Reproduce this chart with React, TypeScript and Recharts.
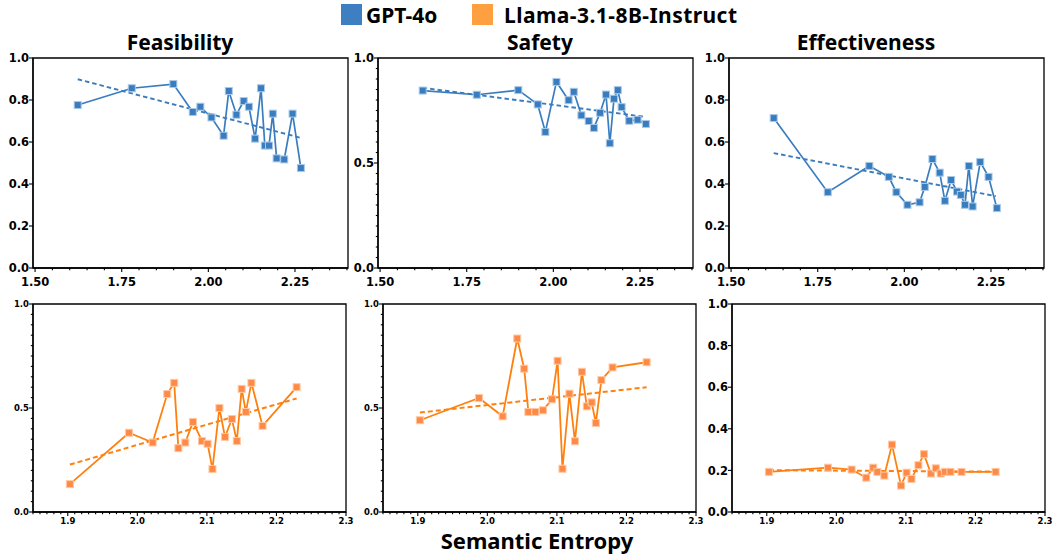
import React from "react";
import { LineChart, Line, XAxis, YAxis, ReferenceArea } from "recharts";

// GPT-4o: semantic entropy of each sample and the three scores
const gptEntropy = [1.623, 1.779, 1.899, 1.955, 1.977, 2.009, 2.044, 2.059, 2.081, 2.102, 2.117, 2.135, 2.152, 2.163, 2.175, 2.186, 2.197, 2.219, 2.243, 2.267];
const gptFeasibility = [0.776, 0.856, 0.876, 0.743, 0.768, 0.717, 0.63, 0.843, 0.73, 0.795, 0.768, 0.616, 0.856, 0.583, 0.583, 0.735, 0.522, 0.517, 0.735, 0.476];
const gptSafety = [0.845, 0.825, 0.847, 0.779, 0.648, 0.886, 0.799, 0.839, 0.727, 0.7, 0.667, 0.739, 0.826, 0.594, 0.806, 0.847, 0.766, 0.701, 0.706, 0.686];
const gptEffectiveness = [0.714, 0.361, 0.486, 0.434, 0.361, 0.301, 0.313, 0.386, 0.519, 0.454, 0.32, 0.419, 0.364, 0.348, 0.301, 0.486, 0.293, 0.505, 0.434, 0.285];

// Llama-3.1-8B-Instruct
const llamaEntropy = [1.903, 1.988, 2.022, 2.043, 2.053, 2.059, 2.069, 2.08, 2.093, 2.101, 2.108, 2.118, 2.126, 2.136, 2.143, 2.15, 2.156, 2.164, 2.18, 2.229];
const llamaFeasibility = [0.134, 0.381, 0.334, 0.567, 0.621, 0.307, 0.334, 0.433, 0.341, 0.328, 0.207, 0.5, 0.361, 0.447, 0.341, 0.592, 0.481, 0.621, 0.414, 0.6];
const llamaSafety = [0.441, 0.548, 0.46, 0.834, 0.689, 0.481, 0.481, 0.489, 0.542, 0.727, 0.208, 0.569, 0.34, 0.674, 0.508, 0.527, 0.428, 0.634, 0.695, 0.72];
const llamaEffectiveness = [0.193, 0.213, 0.204, 0.165, 0.213, 0.193, 0.175, 0.324, 0.127, 0.189, 0.159, 0.225, 0.278, 0.185, 0.21, 0.185, 0.193, 0.193, 0.193, 0.193];

// dashed trend lines (end points)
const gptTrendX = [1.623, 2.264];
const gptFeasibilityTrend = [0.899, 0.621];
const gptSafetyTrend = [0.858, 0.72];
const gptEffectivenessTrend = [0.547, 0.342];
const llamaTrendX = [1.903, 2.229];
const llamaFeasibilityTrend = [0.228, 0.546];
const llamaSafetyTrend = [0.478, 0.6];
const llamaEffectivenessTrend = [0.201, 0.194];

const titles = ["Feasibility", "Safety", "Effectiveness"];
const topXTicks = [1.5, 1.75, 2.0, 2.25];
const bottomXTicks = [1.9, 2.0, 2.1, 2.2, 2.3];
const yTicksFine = [0, 0.2, 0.4, 0.6, 0.8, 1.0];
const yTicksCoarse = [0, 0.5, 1.0];

const BLUE = "#3a7dbf";
const BLUE_EDGE = "#a9c9e8";
const ORANGE = "#ff800e";
const ORANGE_MARK = "#ff8a48";
const ORANGE_EDGE = "#ffc9a3";

const pts = (xs: number[], ys: number[]) => xs.map((x, i) => ({ x, y: ys[i] }));

const withMinor = (major: number[], lo: number, hi: number, step: number) => {
  const out: number[] = [];
  if (step > 0) {
    for (let v = lo; v <= hi + 1e-9; v += step) out.push(Math.round(v * 1000) / 1000);
  }
  major.forEach((m) => {
    if (!out.some((o) => Math.abs(o - m) < 1e-6)) out.push(m);
  });
  return out.sort((a, b) => a - b);
};

const isMajor = (major: number[], v: number) => major.some((m) => Math.abs(m - v) < 1e-6);

type PanelProps = {
  left: number;
  top: number;
  w: number;
  h: number;
  xDomain: [number, number];
  xMajor: number[];
  xMinorStep: number;
  xDigits: number;
  xFont: number;
  xLabelOffset: number;
  yMajor: number[];
  yMinorStep: number;
  yFont: number;
  series: { x: number; y: number }[];
  trend: { x: number; y: number }[];
  color: string;
  mark: string;
  edge: string;
  lineWidth: number;
  dash: string;
};

const Panel = (p: PanelProps) => {
  const padL = 45;
  const padT = 8;
  const padR = 10;
  const padB = 30;
  const xTicks = withMinor(p.xMajor, Math.ceil(p.xDomain[0] / p.xMinorStep - 1e-6) * p.xMinorStep, p.xDomain[1], p.xMinorStep);
  const yTicks = withMinor(p.yMajor, 0, 1, p.yMinorStep);

  const XTick = (props: any) => {
    const { x, y, payload } = props;
    const major = isMajor(p.xMajor, payload.value);
    return (
      <g>
        <line x1={x} x2={x} y1={y} y2={y + (major ? 4 : 2.2)} stroke="#000" strokeWidth={1.1} />
        {major && (
          <text x={x} y={y + p.xLabelOffset} textAnchor="middle" fontSize={p.xFont} fontWeight="bold" fontFamily="DejaVu Sans" fill="#000">
            {payload.value.toFixed(p.xDigits)}
          </text>
        )}
      </g>
    );
  };

  const YTick = (props: any) => {
    const { x, y, payload } = props;
    const major = isMajor(p.yMajor, payload.value);
    return (
      <g>
        <line x1={x} x2={x - (major ? 4 : 2.2)} y1={y} y2={y} stroke="#000" strokeWidth={1.1} />
        {major && (
          <text x={x - 4} y={y + p.yFont * 0.36} textAnchor="end" fontSize={p.yFont} fontWeight="bold" fontFamily="DejaVu Sans" fill="#000">
            {payload.value.toFixed(1)}
          </text>
        )}
      </g>
    );
  };

  const Square = (props: any) => {
    const { cx, cy, index } = props;
    return <rect key={`sq-${index}`} x={cx - 3.5} y={cy - 3.5} width={7} height={7} fill={p.mark} stroke={p.edge} strokeWidth={1} />;
  };

  return (
    <div style={{ position: "absolute", left: p.left - padL, top: p.top - padT }}>
      <LineChart width={p.w + padL + padR} height={p.h + padT + padB} margin={{ top: padT, right: padR, bottom: 0, left: 0 }}>
        <XAxis
          type="number"
          dataKey="x"
          domain={p.xDomain}
          allowDataOverflow
          ticks={xTicks}
          interval={0}
          height={padB}
          tickSize={0}
          tickMargin={0}
          tickLine={false}
          tick={<XTick />}
          axisLine={{ stroke: "#000", strokeWidth: 1.3 }}
        />
        <YAxis
          type="number"
          dataKey="y"
          domain={[0, 1]}
          allowDataOverflow
          ticks={yTicks}
          interval={0}
          width={padL}
          tickSize={0}
          tickMargin={0}
          tickLine={false}
          tick={<YTick />}
          axisLine={{ stroke: "#000", strokeWidth: 1.3 }}
        />
        <ReferenceArea x1={p.xDomain[0]} x2={p.xDomain[1]} y1={0} y2={1} fill="none" stroke="#000" strokeWidth={1.3} fillOpacity={0} />
        <Line
          data={p.trend}
          dataKey="y"
          type="linear"
          stroke={p.color}
          strokeWidth={p.lineWidth + 0.2}
          strokeDasharray={p.dash}
          dot={false}
          activeDot={false}
          isAnimationActive={false}
        />
        <Line
          data={p.series}
          dataKey="y"
          type="linear"
          stroke={p.color}
          strokeWidth={p.lineWidth}
          dot={<Square />}
          activeDot={false}
          isAnimationActive={false}
        />
      </LineChart>
    </div>
  );
};

export default function App() {
  const topCommon = {
    top: 58,
    h: 210,
    w: 315,
    xDomain: [1.494, 2.403] as [number, number],
    xMajor: topXTicks,
    xMinorStep: 0.05,
    xDigits: 2,
    xFont: 11.5,
    xLabelOffset: 17.5,
    yFont: 11.5,
    color: BLUE,
    mark: BLUE,
    edge: BLUE_EDGE,
    lineWidth: 1.7,
    dash: "4.5 3",
  };
  const bottomCommon = {
    h: 208,
    w: 313,
    xDomain: [1.85, 2.3] as [number, number],
    xMajor: bottomXTicks,
    xMinorStep: 0.01,
    xDigits: 1,
    xFont: 8.5,
    xLabelOffset: 11.5,
    color: ORANGE,
    mark: ORANGE_MARK,
    edge: ORANGE_EDGE,
    lineWidth: 1.8,
    dash: "5 3",
  };

  return (
    <div style={{ position: "absolute", left: 0, top: 0, width: 1055, height: 558, background: "#fff", overflow: "hidden" }}>
      <svg width={1055} height={558} style={{ position: "absolute", left: 0, top: 0 }}>
        <rect x={341} y={4} width={21} height={21} fill="#3d7fc0" />
        <text x={366} y={23} fontSize={21} fontWeight="bold" fontFamily="Noto Sans" fill="#000">GPT-4o</text>
        <rect x={472} y={4} width={21} height={21} fill="#ffa040" />
        <text x={504} y={23} fontSize={21} fontWeight="bold" fontFamily="Noto Sans" fill="#000" textLength={233}>Llama-3.1-8B-Instruct</text>
        <text x={180} y={50} textAnchor="middle" fontSize={21} fontWeight="bold" fontFamily="Noto Sans" fill="#000">{titles[0]}</text>
        <text x={540} y={50} textAnchor="middle" fontSize={21} fontWeight="bold" fontFamily="Noto Sans" fill="#000">{titles[1]}</text>
        <text x={866} y={50} textAnchor="middle" fontSize={21} fontWeight="bold" fontFamily="Noto Sans" fill="#000">{titles[2]}</text>
        <text x={537} y={549} textAnchor="middle" fontSize={22} fontWeight="bold" fontFamily="Noto Sans" fill="#000">Semantic Entropy</text>
      </svg>

      <Panel {...topCommon} left={33} yMajor={yTicksFine} yMinorStep={0}
        series={pts(gptEntropy, gptFeasibility)} trend={pts(gptTrendX, gptFeasibilityTrend)} />
      <Panel {...topCommon} left={378} yMajor={yTicksCoarse} yMinorStep={0.05}
        series={pts(gptEntropy, gptSafety)} trend={pts(gptTrendX, gptSafetyTrend)} />
      <Panel {...topCommon} left={729} yMajor={yTicksFine} yMinorStep={0}
        series={pts(gptEntropy, gptEffectiveness)} trend={pts(gptTrendX, gptEffectivenessTrend)} />

      <Panel {...bottomCommon} left={33} top={304} yMajor={yTicksCoarse} yMinorStep={0.05} yFont={8.5}
        series={pts(llamaEntropy, llamaFeasibility)} trend={pts(llamaTrendX, llamaFeasibilityTrend)} />
      <Panel {...bottomCommon} left={383} top={304} yMajor={yTicksCoarse} yMinorStep={0.05} yFont={8.5}
        series={pts(llamaEntropy, llamaSafety)} trend={pts(llamaTrendX, llamaSafetyTrend)} />
      <Panel {...bottomCommon} left={732} top={304} yMajor={yTicksFine} yMinorStep={0} yFont={11.5}
        series={pts(llamaEntropy, llamaEffectiveness)} trend={pts(llamaTrendX, llamaEffectivenessTrend)} />
    </div>
  );
}
